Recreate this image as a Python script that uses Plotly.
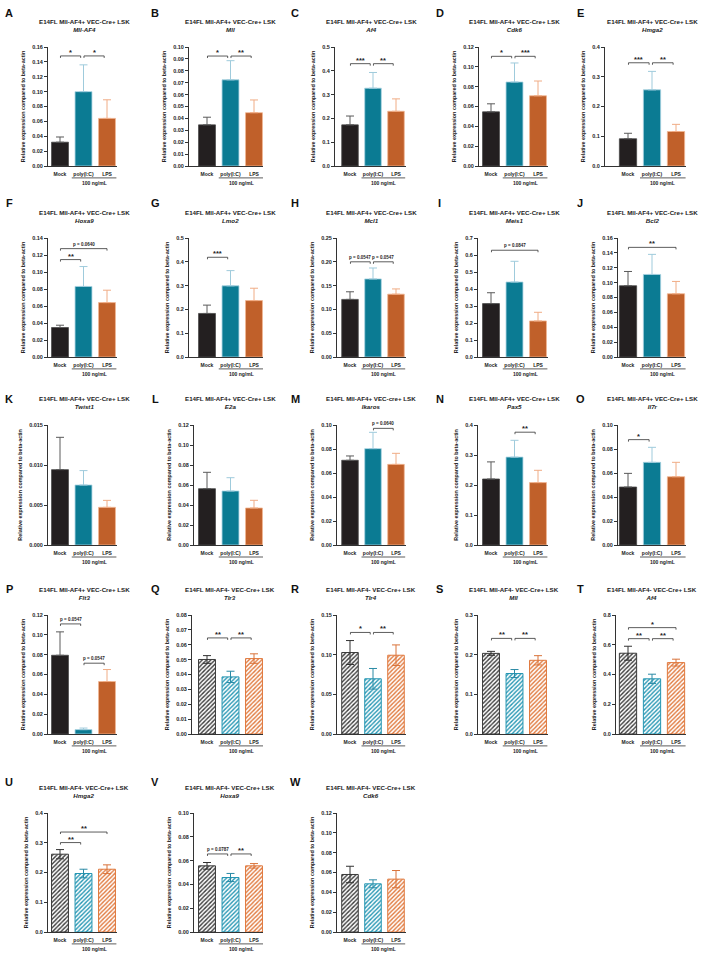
import plotly.graph_objects as go

W, H = 719, 971

# ---------------- data ----------------
PANELS = list("ABCDEFGHIJKLMNOPQRSTUVW")
GROUPS = ["Mock", "poly(I:C)", "LPS"]
COHORT = (["E14FL Mll-AF4+ VEC-Cre+ LSK"] * 12 + ["E14FL Mll-AF4+ VEC-cre+ LSK"]
          + ["E14FL Mll-AF4+ VEC-Cre+ LSK"] * 3 + ["E14FL Mll-AF4- VEC-Cre+ LSK"] * 7)
GENES = ["Mll-AF4", "Mll", "Af4", "Cdk6", "Hmga2",
         "Hoxa9", "Lmo2", "Mcl1", "Meis1", "Bcl2",
         "Twist1", "E2a", "Ikaros", "Pax5", "Il7r",
         "Flt3", "Tlr3", "Tlr4", "Mll", "Af4",
         "Hmga2", "Hoxa9", "Cdk6"]
HATCHED = [False] * 16 + [True] * 7

MOCK_MEAN = [0.032, 0.0346, 0.173, 0.0546, 0.0916,
             0.0347, 0.183, 0.121, 0.314, 0.0958,
             0.00942, 0.0563, 0.0706, 0.220, 0.0483,
             0.0794, 0.0501, 0.1027, 0.2033, 0.543,
             0.2615, 0.0556, 0.058]
POLY_MEAN = [0.100, 0.0724, 0.327, 0.0847, 0.256,
             0.083, 0.299, 0.164, 0.441, 0.111,
             0.0075, 0.054, 0.0803, 0.293, 0.0689,
             0.0044, 0.0384, 0.0696, 0.1525, 0.371,
             0.1966, 0.0458, 0.0486]
LPS_MEAN = [0.064, 0.0448, 0.230, 0.0708, 0.116,
            0.064, 0.237, 0.132, 0.212, 0.085,
            0.00471, 0.037, 0.0672, 0.208, 0.0569,
            0.0529, 0.0507, 0.0993, 0.1858, 0.480,
            0.211, 0.0556, 0.0533]
MOCK_SEM = [0.007, 0.0064, 0.037, 0.0081, 0.0184,
            0.0027, 0.035, 0.016, 0.064, 0.0192,
            0.00404, 0.0164, 0.0036, 0.057, 0.0114,
            0.0236, 0.0026, 0.0151, 0.005, 0.047,
            0.0155, 0.0028, 0.0083]
POLY_SEM = [0.036, 0.0161, 0.066, 0.0192, 0.062,
            0.0234, 0.064, 0.023, 0.122, 0.027,
            0.0018, 0.0133, 0.0136, 0.056, 0.0125,
            0.0016, 0.0038, 0.013, 0.010, 0.031,
            0.0144, 0.0034, 0.004]
LPS_SEM = [0.025, 0.0107, 0.052, 0.0149, 0.024,
           0.0146, 0.052, 0.011, 0.051, 0.0166,
           0.00087, 0.0077, 0.0092, 0.041, 0.012,
           0.0121, 0.0032, 0.013, 0.0117, 0.023,
           0.0147, 0.0019, 0.0087]
Y_MAX = [0.16, 0.10, 0.5, 0.12, 0.4,
         0.14, 0.5, 0.25, 0.7, 0.16,
         0.015, 0.12, 0.10, 0.4, 0.10,
         0.12, 0.08, 0.15, 0.3, 0.8,
         0.4, 0.10, 0.12]
Y_STEP = ["0.02", "0.01", "0.1", "0.02", "0.1",
          "0.02", "0.1", "0.05", "0.1", "0.02",
          "0.005", "0.02", "0.02", "0.1", "0.02",
          "0.02", "0.01", "0.05", "0.1", "0.2",
          "0.1", "0.02", "0.02"]
# (panel, group i, group j, bracket level, label)
BRACKETS = [
    ("A", 0, 1, 0.148, "*"), ("A", 1, 2, 0.148, "*"),
    ("B", 0, 1, 0.0924, "*"), ("B", 1, 2, 0.0924, "**"),
    ("C", 0, 1, 0.43, "***"), ("C", 1, 2, 0.43, "**"),
    ("D", 0, 1, 0.1106, "*"), ("D", 1, 2, 0.1106, "***"),
    ("E", 0, 1, 0.347, "***"), ("E", 1, 2, 0.347, "**"),
    ("F", 0, 1, 0.1146, "**"), ("F", 0, 2, 0.1275, "p = 0.0640"),
    ("G", 0, 1, 0.419, "***"),
    ("H", 0, 1, 0.200, "p = 0.0547"), ("H", 1, 2, 0.200, "p = 0.0547"),
    ("I", 0, 2, 0.628, "p = 0.0847"),
    ("J", 0, 2, 0.1474, "**"),
    ("M", 1, 2, 0.0972, "p = 0.0640"),
    ("N", 1, 2, 0.376, "**"),
    ("O", 0, 1, 0.0878, "*"),
    ("P", 0, 1, 0.111, "p = 0.0547"), ("P", 1, 2, 0.0714, "p = 0.0547"),
    ("Q", 0, 1, 0.0646, "**"), ("Q", 1, 2, 0.0646, "**"),
    ("R", 0, 1, 0.128, "*"), ("R", 1, 2, 0.128, "**"),
    ("S", 0, 1, 0.241, "**"), ("S", 1, 2, 0.241, "**"),
    ("T", 0, 1, 0.641, "**"), ("T", 1, 2, 0.641, "**"), ("T", 0, 2, 0.715, "*"),
    ("U", 0, 1, 0.3006, "**"), ("U", 0, 2, 0.336, "**"),
    ("V", 0, 1, 0.0656, "p = 0.0787"), ("V", 1, 2, 0.0656, "**"),
]
DOSE_LABEL = "100 ng/mL"
YTITLE = "Relative expression compared to beta-actin"

# ---------------- layout geometry (pixels) ----------------
ROW_TOP = [47, 238, 425, 615, 813]
ROW_BOT = [166, 357, 545, 734, 932]
LETTER_Y = [13, 203, 399, 589, 782]
COL_C0 = [60, 207, 350, 491, 628]
COL_S = [23.5, 23.5, 23, 23.5, 24]
COL_END = [117, 263, 406, 548, 686]
COL_LETTER_X = [9, 155, 295, 440, 580]
COL_TITLE_X = [84, 230, 371, 514, 652]
AXIS_X = [48, 189, 335, 479, 605,
          48, 189, 337, 478, 618,
          48, 194, 337, 478, 618,
          48, 192, 337, 478, 616,
          48, 194, 337]

FONT = "Liberation Sans, Arial, Helvetica, sans-serif"
SOLID_FILL = ["#231f20", "#0b7b93", "#c0602a"]
SOLID_EDGE = ["#4a4a4a", "#a8d3e2", "#f1b693"]
SOLID_ERR = ["#5a5a5a", "#9fcbdc", "#f0ac85"]
HATCH_COL = ["#3a3a3a", "#2596b3", "#e0783c"]
HATCH_ERR = ["#333333", "#2a8aa5", "#d9733a"]
BAR_W = 0.72

fig = go.Figure()
annotations = []
shapes = []
axes_layout = {}

for k, p in enumerate(PANELS):
    r, c = divmod(k, 5)
    n = k + 1
    xa = "x" if n == 1 else f"x{n}"
    ya = "y" if n == 1 else f"y{n}"
    means = [MOCK_MEAN[k], POLY_MEAN[k], LPS_MEAN[k]]
    sems = [MOCK_SEM[k], POLY_SEM[k], LPS_SEM[k]]
    hatched = HATCHED[k]

    for g in range(3):
        if hatched:
            marker = dict(color="white",
                          line=dict(color=HATCH_COL[g], width=1),
                          pattern=dict(shape="/", fgcolor=HATCH_COL[g], bgcolor="white",
                                       size=3, solidity=0.45, fillmode="replace"))
            err = dict(type="data", array=[sems[g]], arrayminus=[sems[g]], symmetric=False,
                       color=HATCH_ERR[g], thickness=1, width=4)
        else:
            marker = dict(color=SOLID_FILL[g], line=dict(color=SOLID_EDGE[g], width=0.8))
            err = dict(type="data", array=[sems[g]], arrayminus=[0], symmetric=False,
                       color=SOLID_ERR[g], thickness=1, width=4)
        fig.add_trace(go.Bar(x=[g], y=[means[g]], width=BAR_W, marker=marker, error_y=err,
                             xaxis=xa, yaxis=ya, showlegend=False, hoverinfo="skip"))

    x0 = AXIS_X[k]
    s = COL_S[c]
    c0 = COL_C0[c]
    end = COL_END[c]
    xr = [(x0 - c0) / s, 2 + (end - (c0 + 2 * s)) / s]
    ydom = [1 - ROW_BOT[r] / H, 1 - ROW_TOP[r] / H]
    step = Y_STEP[k]
    dec = len(step.split(".")[1])

    axes_layout["xaxis" if n == 1 else f"xaxis{n}"] = dict(
        domain=[x0 / W, end / W], range=xr, anchor=ya, showline=True, linecolor="#333333",
        linewidth=1, ticks="outside", ticklen=3, tickcolor="rgba(0,0,0,0)",
        tickvals=[0, 1, 2], ticktext=GROUPS,
        tickfont=dict(family=FONT, size=5, color="#222222", weight=700),
        showgrid=False, zeroline=False, automargin=False, fixedrange=True)
    axes_layout["yaxis" if n == 1 else f"yaxis{n}"] = dict(
        domain=ydom, range=[0, Y_MAX[k]], anchor=xa, showline=True, linecolor="#333333",
        linewidth=1, ticks="outside", ticklen=3, tickwidth=1, tickcolor="#333333",
        tick0=0, dtick=float(step), tickformat=f".{dec}f",
        tickfont=dict(family=FONT, size=5.5, color="#222222", weight=700),
        title=dict(text=YTITLE, font=dict(family=FONT, size=5.4, color="#222222", weight=700),
                   standoff=6),
        showgrid=False, zeroline=False, automargin=False, fixedrange=True)

    # panel letter
    annotations.append(dict(text=p, xref="paper", yref="paper",
                            x=COL_LETTER_X[c] / W, y=1 - LETTER_Y[r] / H,
                            xanchor="center", yanchor="middle", showarrow=False,
                            font=dict(family=FONT, size=11, color="#111111", weight=700)))
    # title
    annotations.append(dict(text=f"{COHORT[k]}<br><i>{GENES[k]}</i>", xref="paper", yref="paper",
                            x=COL_TITLE_X[c] / W, y=1 - (ROW_TOP[r] - 22) / H,
                            xanchor="center", yanchor="middle", showarrow=False,
                            font=dict(family=FONT, size=6.2, color="#222222", weight=700)))
    # dose line + label
    shapes.append(dict(type="line", xref=xa, yref=f"{ya} domain", x0=0.5, x1=2.4,
                       y0=-0.1, y1=-0.1, line=dict(color="#333333", width=0.8)))
    annotations.append(dict(text=DOSE_LABEL, xref=xa, yref=f"{ya} domain", x=1.45, y=-0.145,
                            xanchor="center", yanchor="middle", showarrow=False,
                            font=dict(family=FONT, size=5, color="#222222", weight=700)))

    # significance brackets
    tick_d = Y_MAX[k] * 2.0 / (ROW_BOT[r] - ROW_TOP[r])
    for (bp, i, j, lvl, lab) in BRACKETS:
        if bp != p:
            continue
        xs = i + 0.02
        xe = j - (0.12 if j - i == 1 else 0.0)
        shapes.append(dict(type="path", xref=xa, yref=ya,
                           path=f"M {xs},{lvl - tick_d} L {xs},{lvl} L {xe},{lvl} L {xe},{lvl - tick_d}",
                           line=dict(color="#333333", width=0.8)))
        is_p = lab.startswith("p")
        annotations.append(dict(text=lab, xref=xa, yref=ya, x=(xs + xe) / 2, y=lvl,
                                xanchor="center", yanchor="bottom", showarrow=False,
                                yshift=(0 if is_p else -3),
                                font=dict(family=FONT, size=(4.5 if is_p else 7.5),
                                          color="#222222", weight=700)))

fig.update_layout(
    template="none",
    width=W, height=H,
    margin=dict(l=0, r=0, t=0, b=0),
    paper_bgcolor="white", plot_bgcolor="white",
    barmode="overlay",
    annotations=annotations, shapes=shapes,
    **axes_layout,
)

fig.write_html("out.html", config={"displayModeBar": False},
               post_script="document.body.style.margin='0';")
